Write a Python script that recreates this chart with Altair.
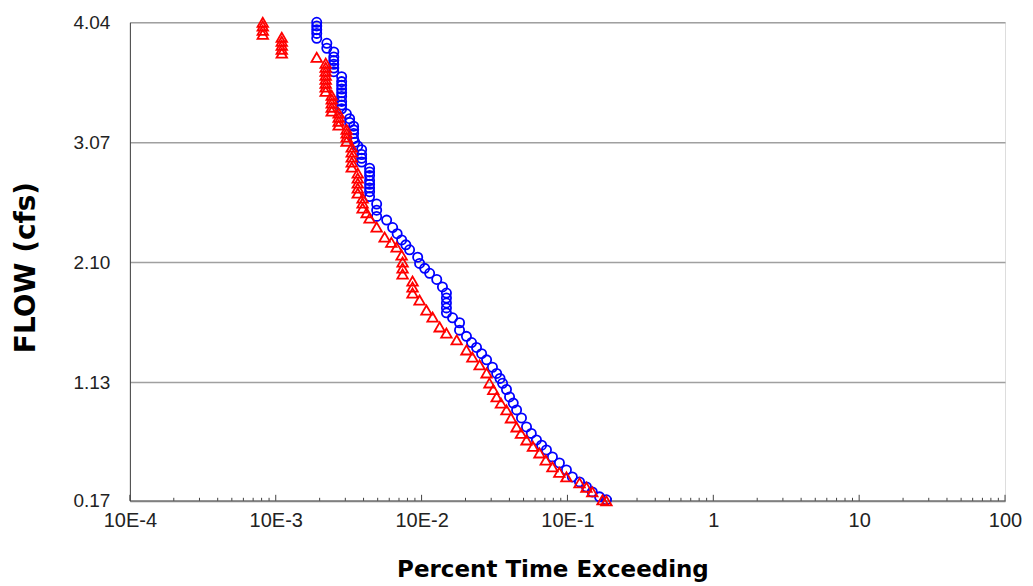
import altair as alt
import pandas as pd

# ---- data ----
blue_x = [0.00191, 0.00191, 0.00191, 0.00191, 0.00191, 0.00224, 0.00224,
          0.0025, 0.0025, 0.0025, 0.0025, 0.0025, 0.0025,
          0.00283, 0.00283, 0.00283, 0.00283, 0.00283, 0.00283, 0.00283, 0.00283, 0.00283,
          0.00305, 0.00321, 0.00321, 0.00342, 0.00342, 0.00342, 0.00342, 0.00348, 0.00365,
          0.00388, 0.00388, 0.00388, 0.00388,
          0.0044, 0.0044, 0.0044, 0.0044, 0.0044, 0.0044, 0.0044, 0.0044,
          0.00492, 0.00492, 0.00492, 0.00576, 0.00633, 0.0068, 0.0073, 0.0078, 0.00827,
          0.0094, 0.00969, 0.0105, 0.01135, 0.0127, 0.0139,
          0.0148, 0.0148, 0.0148, 0.0148, 0.0148, 0.0163, 0.0182, 0.0182, 0.0203,
          0.022, 0.0238, 0.0258, 0.0279, 0.0306, 0.0327, 0.0345, 0.0359, 0.0382, 0.0401,
          0.0425, 0.0448, 0.0484, 0.0524, 0.0565, 0.0613, 0.0665, 0.0718, 0.0789, 0.0881,
          0.0984, 0.108, 0.121, 0.135, 0.148, 0.166, 0.185]
blue_y = [4.04, 4.01, 3.98, 3.95, 3.91, 3.87, 3.83,
          3.80, 3.76, 3.73, 3.70, 3.67, 3.64,
          3.60, 3.56, 3.53, 3.50, 3.47, 3.44, 3.40, 3.37, 3.34,
          3.30, 3.26, 3.23, 3.20, 3.17, 3.14, 3.10, 3.07, 3.04,
          3.01, 2.97, 2.94, 2.91,
          2.86, 2.83, 2.80, 2.76, 2.73, 2.70, 2.67, 2.63,
          2.57, 2.52, 2.47, 2.44, 2.38, 2.33, 2.28, 2.24, 2.20,
          2.14, 2.09, 2.05, 2.01, 1.96, 1.90,
          1.85, 1.81, 1.77, 1.73, 1.69, 1.65, 1.61, 1.55, 1.50,
          1.45, 1.41, 1.36, 1.31, 1.25, 1.20, 1.16, 1.12, 1.07, 1.01,
          0.96, 0.905, 0.84, 0.767, 0.715, 0.662, 0.62, 0.581, 0.525, 0.476,
          0.42, 0.363, 0.323, 0.282, 0.242, 0.202, 0.178]

red_x = [0.000815, 0.000815, 0.000815, 0.000815, 0.0011, 0.0011, 0.0011, 0.0011, 0.0011,
         0.00191, 0.0022, 0.0022, 0.0022, 0.0022, 0.0022, 0.0022, 0.0022, 0.0022,
         0.00242, 0.00242, 0.00242, 0.00242, 0.00242, 0.0027, 0.0027, 0.0027, 0.0027,
         0.00306, 0.00306, 0.00306, 0.00306, 0.00332, 0.00332, 0.00332, 0.00332, 0.00332,
         0.00365, 0.00365, 0.00365, 0.00365, 0.00365, 0.00394, 0.00394, 0.00394,
         0.0042, 0.0044, 0.00492, 0.00558, 0.0062, 0.00674, 0.0073, 0.00741, 0.00741, 0.00741,
         0.00867, 0.00867, 0.00867, 0.00969, 0.0108, 0.0119, 0.0133, 0.0148, 0.0174, 0.0203,
         0.0223, 0.025, 0.0279, 0.0292, 0.031, 0.0327, 0.035, 0.0382, 0.041, 0.0448, 0.048,
         0.0524, 0.058, 0.0643, 0.071, 0.0789, 0.088, 0.0984, 0.121, 0.135, 0.148, 0.174, 0.185]
red_y = [4.04, 4.01, 3.975, 3.943, 3.919, 3.886, 3.854, 3.822, 3.79,
         3.757, 3.709, 3.676, 3.644, 3.612, 3.579, 3.547, 3.515, 3.482,
         3.45, 3.418, 3.386, 3.353, 3.321, 3.305, 3.272, 3.24, 3.208,
         3.175, 3.143, 3.111, 3.078, 3.03, 2.99, 2.949, 2.909, 2.868,
         2.82, 2.78, 2.739, 2.699, 2.658, 2.618, 2.578, 2.537,
         2.50, 2.456, 2.384, 2.303, 2.26, 2.222, 2.157, 2.101, 2.052, 2.004,
         1.947, 1.899, 1.85, 1.794, 1.713, 1.656, 1.576, 1.527, 1.471, 1.39,
         1.333, 1.269, 1.204, 1.123, 1.07, 1.01, 0.96, 0.905, 0.84, 0.767, 0.715,
         0.662, 0.61, 0.557, 0.50, 0.444, 0.40, 0.363, 0.315, 0.28, 0.242, 0.178, 0.17]

y_ticks = [0.17, 1.13, 2.10, 3.07, 4.04]
x_ticks = [0.0001, 0.001, 0.01, 0.1, 1, 10, 100]
x_tick_labels = ["10E-4", "10E-3", "10E-2", "10E-1", "1", "10", "100"]
minor_ticks = [m * d for d in [0.0001, 0.001, 0.01, 0.1, 1, 10] for m in range(2, 10)]

# ---- build ----
pts = pd.concat([
    pd.DataFrame({"pct": blue_x, "flow": blue_y, "s": "blue"}),
    pd.DataFrame({"pct": red_x, "flow": red_y, "s": "red"}),
])

label_expr = ""
for v, l in zip(x_ticks, x_tick_labels):
    label_expr += f"abs(log(datum.value) - log({v})) < 0.01 ? '{l}' : "
label_expr += "datum.label"

W, H = 876, 479

x_axis = alt.Axis(values=x_ticks, labelExpr=label_expr, grid=False, ticks=False,
                  labelFont="Liberation Sans", labelFontSize=20, labelColor="#222",
                  labelPadding=10, labelFlush=False, domainColor="#808080", domainWidth=2,
                  title="Percent Time Exceeding", titleFont="DejaVu Sans",
                  titleFontSize=23, titleFontWeight="bold", titleColor="#000",
                  titleX=423, titleY=76, titleAnchor="middle", titleBaseline="alphabetic")
y_axis = alt.Axis(values=y_ticks, format=".2f", grid=True, gridColor="#a0a0a0",
                  gridWidth=1.5, ticks=False, labelFont="Liberation Sans",
                  labelFontSize=19, labelColor="#222", labelPadding=20,
                  domainColor="#404040", domainWidth=1,
                  title="FLOW (cfs)", titleFont="DejaVu Sans", titleFontSize=28,
                  titleFontWeight="bold", titleColor="#000", titleAngle=270,
                  titleX=-95, titleY=245, titleBaseline="alphabetic", titleAlign="center")

xs = alt.Scale(type="log", domain=[0.0001, 100], nice=False)
ys = alt.Scale(domain=[0.17, 4.04], nice=False, zero=False)

points = alt.Chart(pts).mark_point(filled=False, strokeWidth=1.8, opacity=1).encode(
    x=alt.X("pct:Q", scale=xs, axis=x_axis),
    y=alt.Y("flow:Q", scale=ys, axis=y_axis),
    color=alt.Color("s:N", scale=alt.Scale(domain=["blue", "red"], range=["#0000ff", "#ff0000"]), legend=None),
    shape=alt.Shape("s:N", scale=alt.Scale(domain=["blue", "red"], range=["circle", "triangle-up"]), legend=None),
    size=alt.Size("s:N", scale=alt.Scale(domain=["blue", "red"], range=[85, 110]), legend=None),
    order=alt.Order("s:N"),
)

minor = alt.Chart(pd.DataFrame({"t": minor_ticks})).mark_rule(color="#404040", strokeWidth=1).encode(
    x=alt.X("t:Q", scale=xs, axis=x_axis),
    y=alt.value(H),
    y2=alt.value(H - 3),
)
major = alt.Chart(pd.DataFrame({"t": x_ticks})).mark_rule(color="#404040", strokeWidth=1).encode(
    x=alt.X("t:Q", scale=xs, axis=x_axis),
    y=alt.value(H),
    y2=alt.value(H - 6),
)

chart = alt.layer(minor, major, points).properties(
    width=W, height=H,
    autosize=alt.AutoSizeParams(type="none"),
    padding={"left": 122, "top": 14, "right": 20, "bottom": 84},
).configure_view(stroke=None).configure(background="white")

chart.save("out.html", embed_options={"renderer": "svg", "actions": False})
